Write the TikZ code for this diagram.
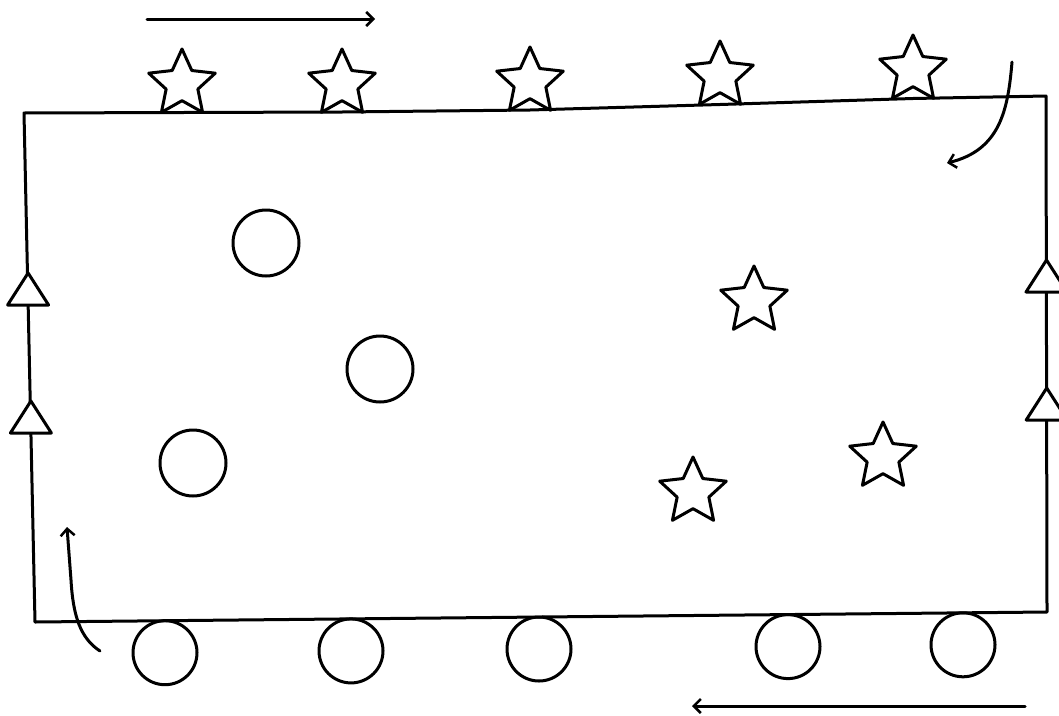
\documentclass[tikz,border=0pt]{standalone}
\usetikzlibrary{shapes.geometric,arrows.meta}
\tikzset{
  ln/.style={line width=3pt, line join=round, line cap=round},
  starmark/.style={draw, ln, shape=star, star points=5, star point ratio=2.1, minimum size=70pt, inner sep=0pt},
  ring/.style={draw, ln, circle, minimum size=#1, inner sep=0pt},
  ring/.default=66pt,
  flowarrow/.style={ln, -{Straight Barb[length=7pt,width=14pt,line width=2.5pt]}},
  tri/.pic={\draw[ln, fill=white] (-20.5,0) -- (20.5,0) -- (0,-32) -- cycle;}
}
\begin{document}
\begin{tikzpicture}[x=1pt,y=-1pt]
\useasboundingbox[fill=white] (0,0) rectangle (1059,715);
% corners of the frame
\coordinate (tl) at (24,113);
\coordinate (tr) at (1046,96);
\coordinate (br) at (1047,612);
\coordinate (bl) at (35,622);
% frame
\draw[ln] (tl) -- (342,112) -- (530,110) -- (720,104.5) -- (913,98.5) -- (tr) -- (br) -- (bl) -- cycle;
% triangles on side edges
\pic at (28.1,305) {tri};
\pic at (30.9,433) {tri};
\pic at (1046.5,292) {tri};
\pic at (1046.7,420) {tri};
% stars on top edge
\node[starmark] (s1) at (182,84) {};
\node[starmark] (s2) at (342,84) {};
\node[starmark] (s3) at (530,82) {};
\node[starmark] (s4) at (720,76) {};
\node[starmark] (s5) at (913,70) {};
% stars inside
\node[starmark] (sa) at (754,301) {};
\node[starmark] (sb) at (883,457) {};
\node[starmark] (sc) at (693,492) {};
% circles inside
\node[ring] (c1) at (266,243) {};
\node[ring] (c2) at (380,369) {};
\node[ring] (c3) at (193,463) {};
% circles under bottom edge
\node[ring=64pt] (b1) at (165,652.7) {};
\node[ring=64pt] (b2) at (351,650.9) {};
\node[ring=64pt] (b3) at (539,649) {};
\node[ring=64pt] (b4) at (788,646.6) {};
\node[ring=64pt] (b5) at (963,644.8) {};
% straight arrows
\coordinate (ta0) at (147,19);
\coordinate (ta1) at (375,19);
\draw[flowarrow] (ta0) -- (ta1);
\coordinate (ba0) at (1025,706);
\coordinate (ba1) at (692,706);
\draw[flowarrow] (ba0) -- (ba1);
% curved arrows
\coordinate (ra0) at (1012,62);
\coordinate (ra1) at (947,163);
\draw[flowarrow] (ra0) .. controls (1008,110) and (1000,150) .. (ra1);
\coordinate (la0) at (100,651);
\coordinate (la1) at (67,527);
\draw[flowarrow] (la0) .. controls (80,638) and (73,615) .. (71,580) -- (la1);
\end{tikzpicture}
\end{document}
